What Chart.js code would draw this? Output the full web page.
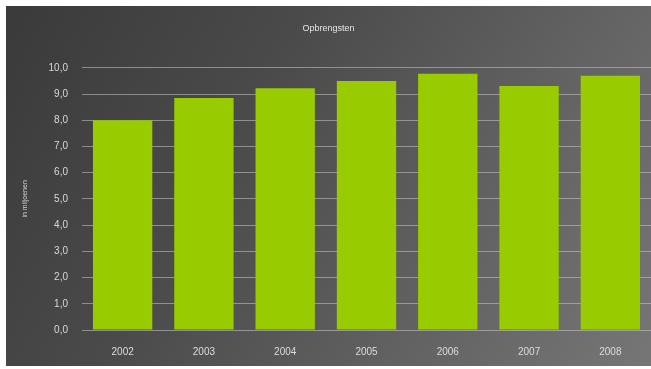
<!DOCTYPE html>
<html>
<head>
<meta charset="utf-8">
<script src="https://cdn.jsdelivr.net/npm/chart.js@4"></script>
<style>
  html, body { margin: 0; padding: 0; background: #fff; }
  #wrap {
    position: absolute; left: 6px; top: 6px; width: 645px; height: 360px;
    background: linear-gradient(120deg, #3a3a3a 0%, #4a4a4a 35%, #626262 70%, #767676 100%);
  }
</style>
</head>
<body>
<div id="wrap"><canvas id="opbrChart" width="645" height="360"></canvas></div>
<script>
const years = ['2002', '2003', '2004', '2005', '2006', '2007', '2008'];
const opbrengsten = [8.0, 8.85, 9.22, 9.5, 9.77, 9.31, 9.7];
const yTicks = [0, 1, 2, 3, 4, 5, 6, 7, 8, 9, 10];

const ctx = document.getElementById('opbrChart').getContext('2d');
new Chart(ctx, {
  type: 'bar',
  data: {
    labels: years,
    datasets: [{
      label: 'Opbrengsten',
      data: opbrengsten,
      backgroundColor: '#98cb00',
      categoryPercentage: 0.73,
      barPercentage: 1.0
    }]
  },
  options: {
    responsive: false,
    animation: false,
    layout: { padding: 0 },
    plugins: {
      legend: { display: false },
      tooltip: { enabled: false },
      title: {
        display: true,
        text: 'Opbrengsten',
        color: '#e6e6e6',
        font: { family: 'Liberation Sans', size: 9, weight: 'normal' },
        padding: { top: 17, bottom: 34 }
      }
    },
    scales: {
      x: {
        afterFit: axis => { axis.height = 36; },
        grid: { display: false, drawTicks: false },
        border: { display: false },
        ticks: {
          color: '#dcdcdc',
          font: { family: 'Liberation Sans', size: 10 },
          padding: 16
        }
      },
      y: {
        min: 0,
        max: 10,
        afterBuildTicks: axis => { axis.ticks = yTicks.map(v => ({ value: v })); },
        afterFit: axis => { axis.width = 76; },
        grid: { color: 'rgba(200,200,200,0.55)', lineWidth: 1, drawTicks: false },
        border: { display: false },
        title: {
          display: true,
          text: 'in miljoenen',
          color: '#d8d8d8',
          font: { family: 'Liberation Sans', size: 7 },
          padding: { top: 15, bottom: 0 }
        },
        ticks: {
          color: '#d8d8d8',
          font: { family: 'Liberation Sans', size: 10 },
          padding: 14,
          callback: v => v.toFixed(1).replace('.', ',')
        }
      }
    }
  }
});
</script>
</body>
</html>
